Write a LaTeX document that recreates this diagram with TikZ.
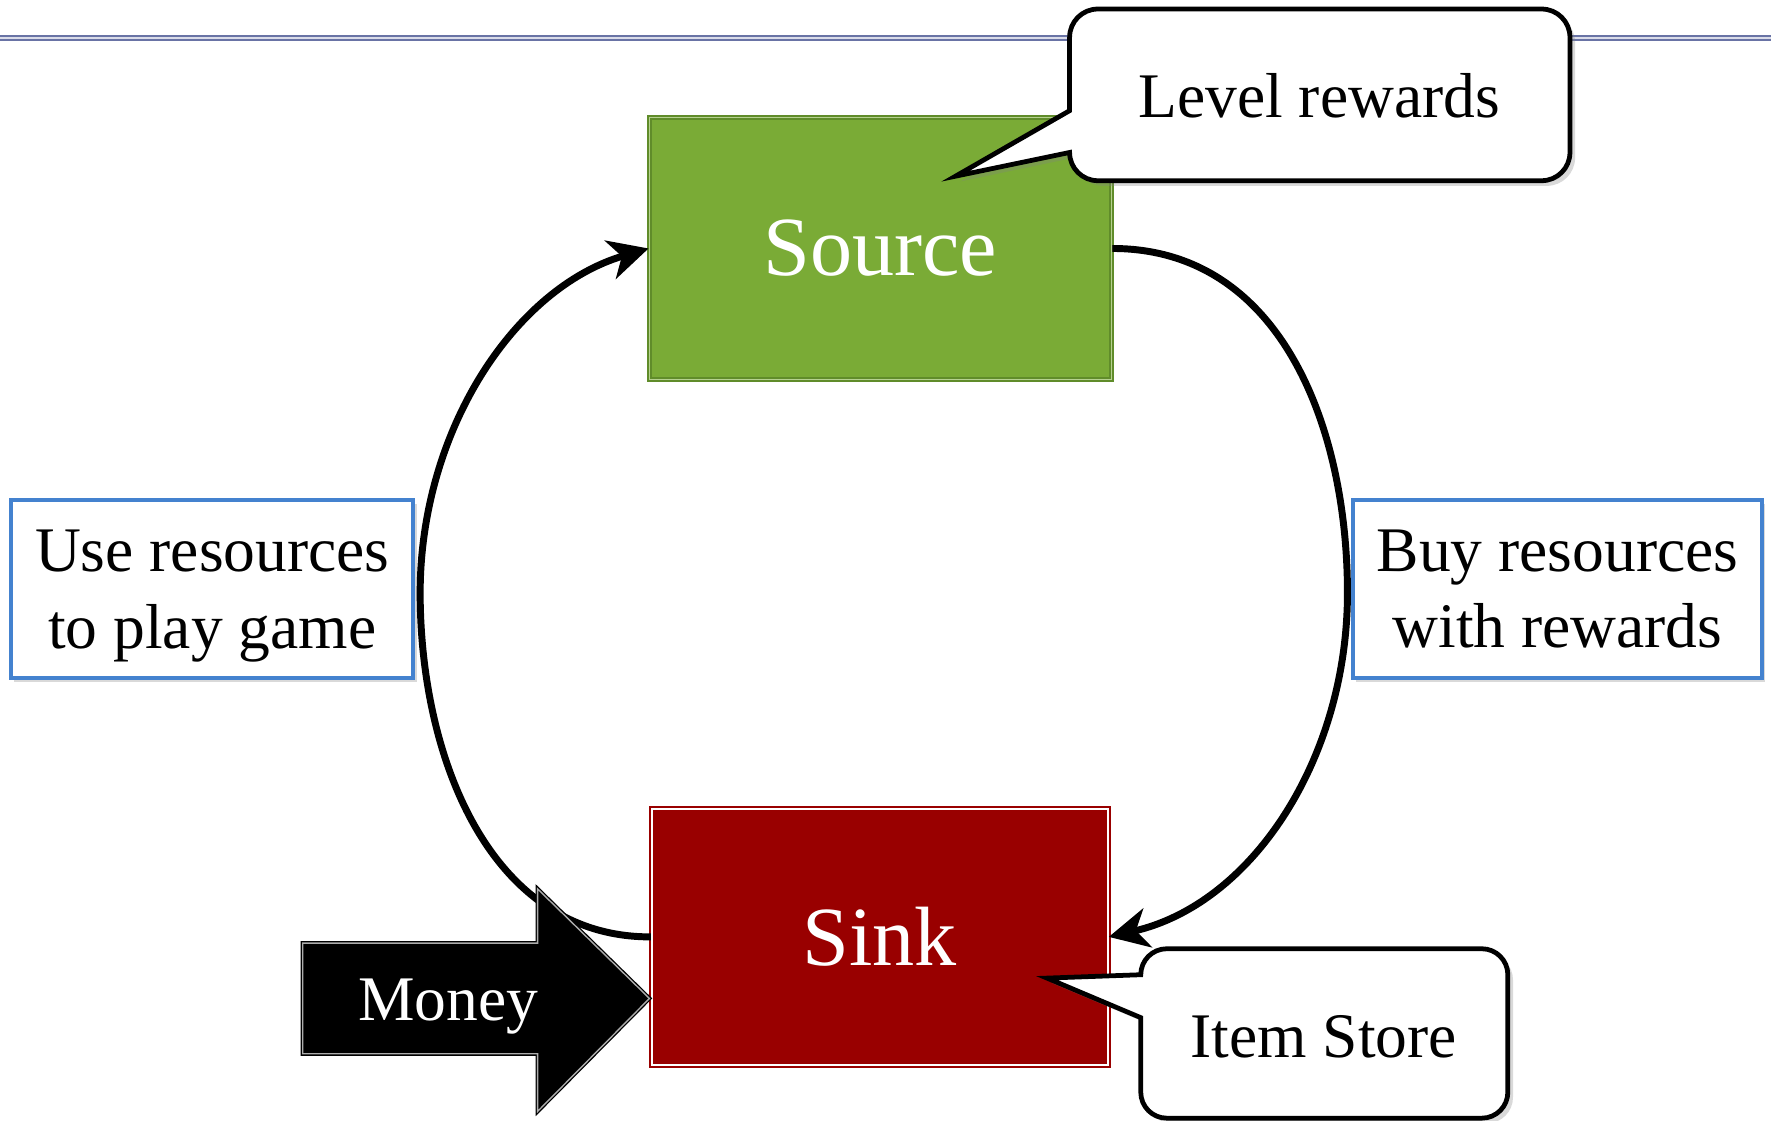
\documentclass[tikz,border=0pt]{standalone}
\usepackage{fontspec}
\setmainfont{Liberation Serif}
\usetikzlibrary{arrows.meta,shadows}
\definecolor{srcgreen}{RGB}{122,171,54}
\definecolor{srcedge}{RGB}{96,140,42}
\definecolor{sinkred}{RGB}{153,0,0}
\definecolor{boxblue}{RGB}{68,130,207}
\definecolor{rulecol}{RGB}{105,115,165}
\begin{document}
\begin{tikzpicture}[x=0.1mm,y=-0.1mm,
  lbl/.style={font=\fontsize{16}{19.3}\selectfont, align=center, inner sep=0pt},
  big/.style={font=\fontsize{21.2}{25}\selectfont, text=white, inner sep=0pt},
  srcbox/.style={big, fill=srcgreen, draw=srcedge, double=srcgreen!55!white, double distance=0.45pt, line width=0.45pt},
  sinkbox/.style={big, fill=sinkred, draw=sinkred, double=white, double distance=0.55pt, line width=0.4pt},
  bluebox/.style={lbl, draw=boxblue, line width=1pt, fill=white, minimum height=15.7mm,
    drop shadow={shadow xshift=0.8pt, shadow yshift=-1pt, opacity=0.3}},
  flow/.style={line width=1.75pt, -{Stealth[length=10pt,width=10pt,inset=3pt]}},
  callout/.style={draw=black, line width=1.2pt, fill=white, line join=miter,
    drop shadow={shadow xshift=1.3pt, shadow yshift=-1.3pt, opacity=0.3}}
]
\useasboundingbox (0,0) rectangle (1568,992.5);

% top rule
\fill[rulecol!25] (0,31) rectangle (1568,36.5);
\draw[rulecol, line width=0.45pt] (0,32) -- (1568,32);
\draw[rulecol, line width=0.45pt] (0,35.5) -- (1568,35.5);

% main boxes
\node[srcbox, minimum width=40.9mm, minimum height=23.2mm] (source) at (779.5,220) {Source};
\node[sinkbox, minimum width=40.4mm, minimum height=22.7mm] (sink) at (779,829.5) {Sink};

% side labels
\node[bluebox, minimum width=35.6mm] (use) at (188,521.5) {Use resources\\\raisebox{0pt}[\height][0pt]{to play game}};
\node[bluebox, minimum width=36.2mm] (buy) at (1379,521.5) {Buy resources\\with rewards};

% flows
\draw[flow] (sink.west) .. controls (433,830) and (372,669) .. (372,525)
  .. controls (372,382) and (455,255) .. (source.west);
\draw[flow] (source.east) .. controls (1135,220) and (1193,380) .. (1193,525)
  .. controls (1193,670) and (1110,800) .. (sink.east);

% money arrow
\def\moneyarrow{(268,835) -- (476,835) -- (476,787) -- (575,884) -- (476,984) -- (476,933) -- (268,933) -- cycle}
\draw[fill=black, draw=black, line width=1pt] \moneyarrow;
\draw[gray!65, line width=0.35pt] \moneyarrow;
\node[lbl, text=white] (money) at (397,891) {Money};

% callout: Level rewards
\draw[callout] (972,8) -- (1365,8) arc[start angle=90, end angle=0, radius=2.5mm]
  -- (1390,135) arc[start angle=0, end angle=-90, radius=2.5mm]
  -- (972,160) arc[start angle=-90, end angle=-180, radius=2.5mm]
  -- (846,156) -- (947,98) -- (947,33) arc[start angle=180, end angle=90, radius=2.5mm] -- cycle;
\node[lbl] (level) at (1168,85) {Level rewards};

% callout: Item Store
\draw[callout] (1033,840) -- (1312,840) arc[start angle=90, end angle=0, radius=2.3mm]
  -- (1335,967) arc[start angle=0, end angle=-90, radius=2.3mm]
  -- (1033,990) arc[start angle=-90, end angle=-180, radius=2.3mm]
  -- (1010,901) -- (927,866) -- (1010,863) arc[start angle=180, end angle=90, radius=2.3mm] -- cycle;
\node[lbl] (item) at (1172,918) {Item Store};
\end{tikzpicture}
\end{document}
